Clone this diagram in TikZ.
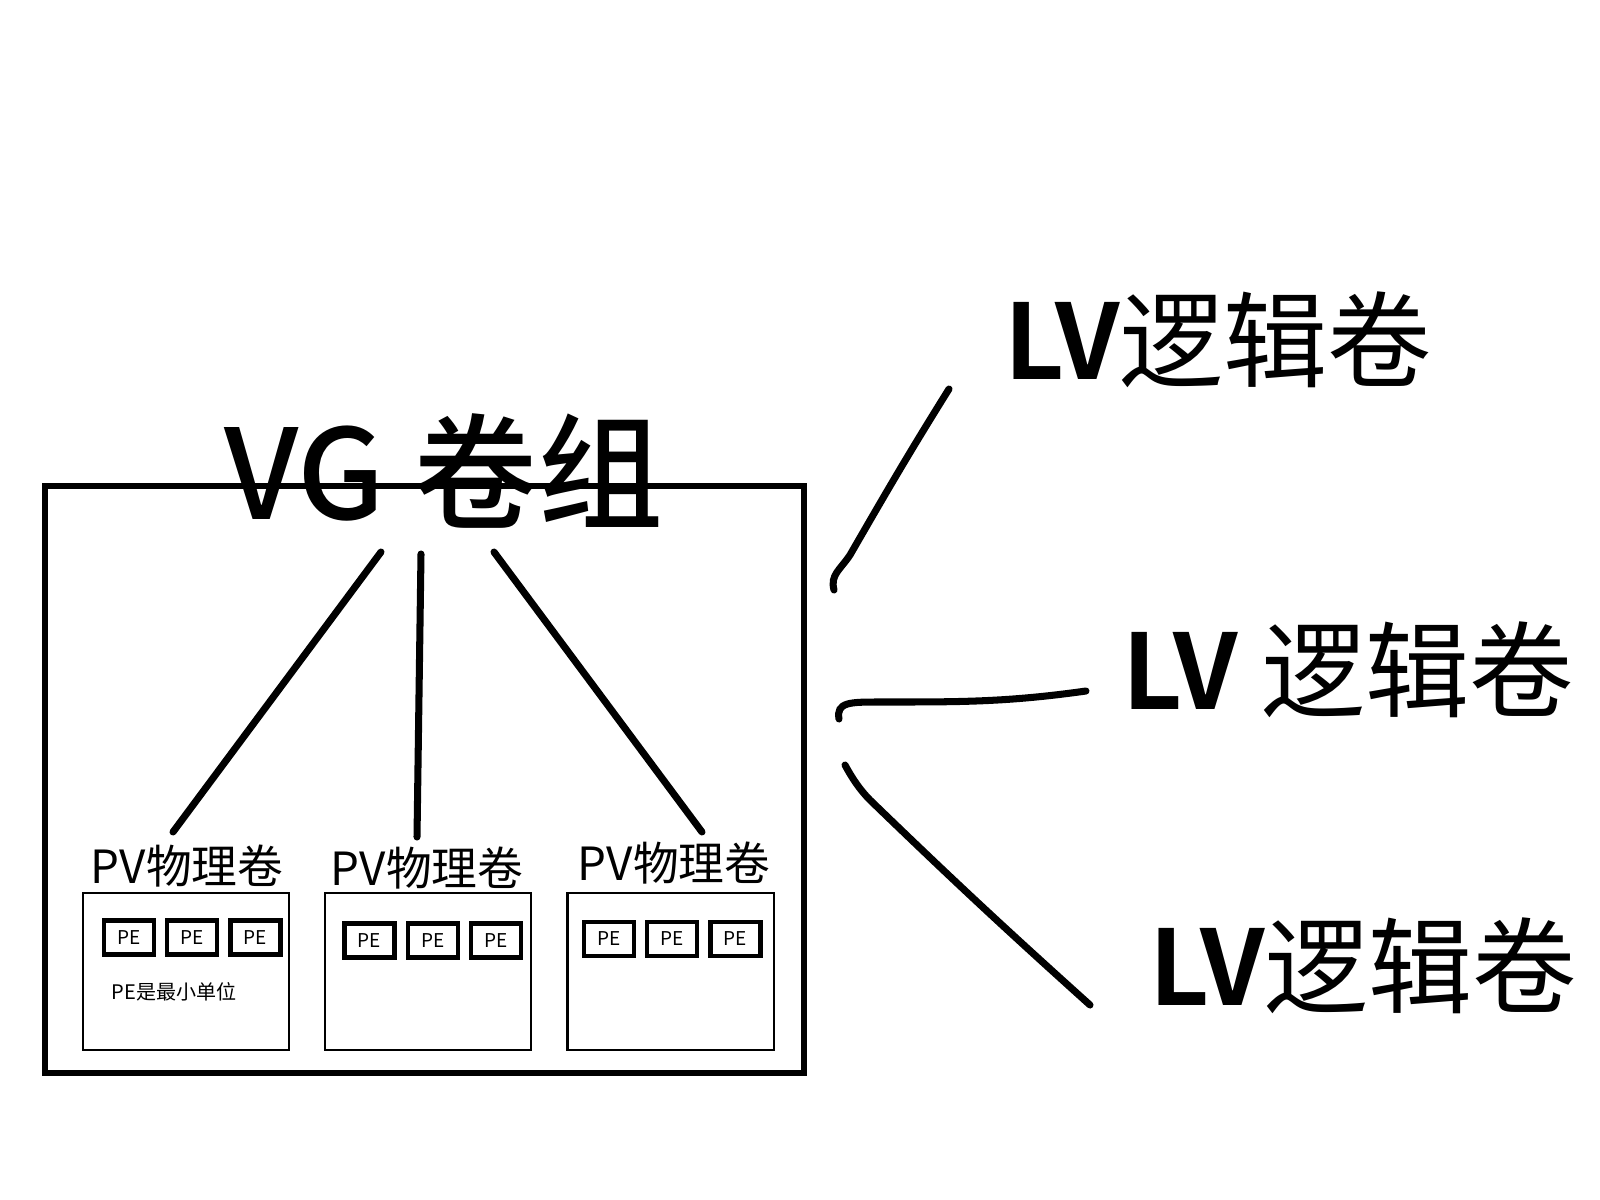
\documentclass[tikz,border=0pt]{standalone}
\usepackage{fontspec}
\setmainfont{Noto Sans CJK SC}[BoldFont={Noto Sans CJK SC Bold}]
\newfontfamily\vgfont{Noto Sans CJK SC Medium}
\usetikzlibrary{positioning}

\begin{document}
\begin{tikzpicture}[x=0.01cm, y=-0.01cm, node distance=0.34cm,
  vgbox/.style={draw, line width=1.7pt, minimum width=7.59cm, minimum height=5.87cm, inner sep=0},
  pvbox/.style={draw, line width=0.6pt, minimum width=2.06cm, minimum height=1.57cm, inner sep=0},
  pe/.style={draw, line width=1.2pt, minimum width=0.5cm, minimum height=0.34cm, inner sep=0, font=\fontsize{5.4}{6}\selectfont},
  pvlabel/.style={inner sep=0, font=\fontsize{13}{15}\selectfont},
  lvlabel/.style={inner sep=0, font=\fontsize{29.6}{35}\selectfont},
  s/.style={line width=2pt, line cap=round}]
		\useasboundingbox[fill=white] (0,0) rectangle (1600,1200);

		\node[vgbox] (VG) at (424.5,779.5) {};
		\node[inner sep=0, font=\fontsize{35.5}{41}\vgfont] (VG_label) at (444,471) {VG 卷组};

		\node[pvbox] (PV1) at (186,971.5) {};
		\node[pvbox, right=of PV1] (PV2) {};
		\node[pvbox, right=of PV2] (PV3) {};
		\node[pvlabel] (PV1_label) at (187,866) {PV物理卷};
		\node[pvlabel] (PV2_label) at (427,868) {PV物理卷};
		\node[pvlabel] (PV3_label) at (674,863) {PV物理卷};

		\node[pe] (PE11) at (129,937.5) {PE};
		\node[pe, right=0.09cm of PE11] (PE12) {PE};
		\node[pe, right=0.09cm of PE12] (PE13) {PE};
		\node[pe] (PE21) at (369.5,940.5) {PE};
		\node[pe, right=0.09cm of PE21] (PE22) {PE};
		\node[pe, right=0.09cm of PE22] (PE23) {PE};
		\node[pe] (PE31) at (609,939) {PE};
		\node[pe, right=0.09cm of PE31] (PE32) {PE};
		\node[pe, right=0.09cm of PE32] (PE33) {PE};
		\node[inner sep=0, font=\fontsize{5.7}{7}\selectfont] (PE_note) at (174,992) {PE是最小单位};

		\node[lvlabel] (LV1) at (1218,340) {{\bfseries LV}逻辑卷};
		\node[lvlabel] (LV2) at (1348,670) {{\bfseries LV} 逻辑卷};
		\node[lvlabel] (LV3) at (1363,966) {{\bfseries LV}逻辑卷};

		% line ends
		\coordinate (a1) at (381,552);
		\coordinate (b1) at (173,832);
		\coordinate (a2) at (421,554);
		\coordinate (b2) at (417,837);
		\coordinate (a3) at (494,552);
		\coordinate (b3) at (702,832);
		\coordinate (c1) at (834,590);
		\coordinate (d1) at (949,389);
		\coordinate (c2) at (839,719);
		\coordinate (m2) at (880,702);
		\coordinate (d2) at (1086,691);
		\coordinate (c3) at (845,765);
		\coordinate (m3) at (870,800);
		\coordinate (d3) at (1090,1005);

		\draw[s] (a1) -- (b1);
		\draw[s] (a2) -- (b2);
		\draw[s] (a3) -- (b3);
		\draw[s] (c1) .. controls (830,575) and (840,570) .. (850,555) to[out=60,in=238] (d1);
		\draw[s] (c2) .. controls (836,702) and (850,702) .. (m2) to[out=0,in=188] (d2);
		\draw[s] (c3) .. controls (852,778) and (860,790) .. (m3) to[out=-44,in=138] (d3);
	\end{tikzpicture}
\end{document}
